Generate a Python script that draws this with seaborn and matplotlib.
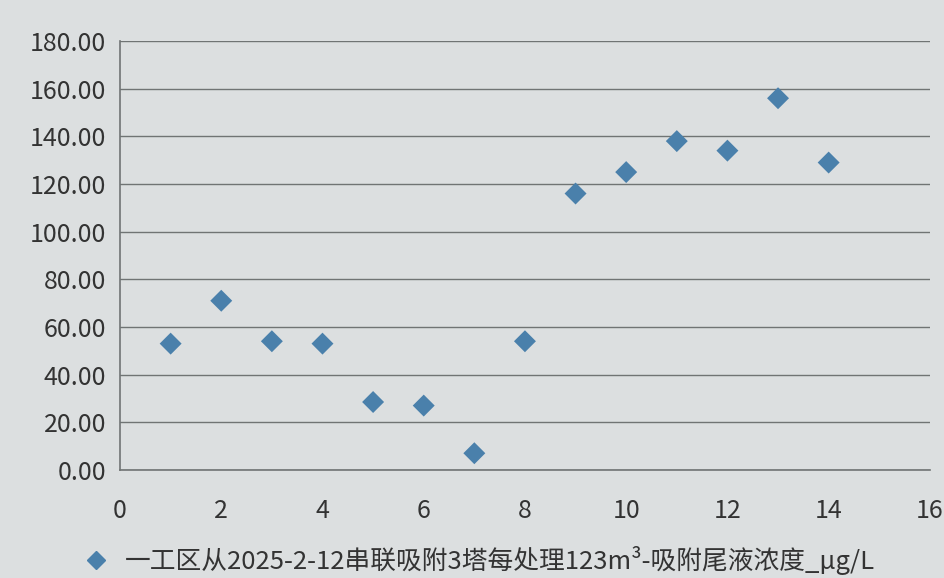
import matplotlib
matplotlib.use("Agg")
import matplotlib.pyplot as plt
import seaborn as sns
import pandas as pd
from matplotlib.ticker import FormatStrFormatter, MultipleLocator
from matplotlib.lines import Line2D

# Tail-liquid concentration per treated batch
batch = [1, 2, 3, 4, 5, 6, 7, 8, 9, 10, 11, 12, 13, 14]
concentration = [53.0, 71.0, 54.0, 53.0, 28.5, 27.0, 7.0, 54.0,
                 116.0, 125.0, 138.0, 134.0, 156.0, 129.0]
series_label = "一工区从2025-2-12串联吸附3塔每处理123m³-吸附尾液浓度_μg/L"

df = pd.DataFrame({"batch": batch, "concentration": concentration})

sns.set_theme(style="white")
plt.rcParams["font.family"] = ["Noto Sans CJK SC", "DejaVu Sans"]

bg = "#dcdfe0"
marker_color = "#4a80ab"

fig = plt.figure(figsize=(9.45, 5.78), dpi=100, facecolor=bg)
ax = fig.add_axes([0.127, 0.187, 0.857, 0.742])
ax.set_facecolor(bg)

sns.scatterplot(data=df, x="batch", y="concentration", marker="D", s=125,
                color=marker_color, edgecolor="none", ax=ax, legend=False,
                zorder=3)

ax.set_xlim(0, 16)
ax.set_ylim(0, 180)
ax.xaxis.set_major_locator(MultipleLocator(2))
ax.yaxis.set_major_locator(MultipleLocator(20))
ax.yaxis.set_major_formatter(FormatStrFormatter("%.2f"))
ax.grid(axis="y", color="#707474", linewidth=1.0)
ax.grid(axis="x", visible=False)
ax.set_xlabel("")
ax.set_ylabel("")

for side in ("top", "right"):
    ax.spines[side].set_visible(False)
for side in ("left", "bottom"):
    ax.spines[side].set_color("#707474")
    ax.spines[side].set_linewidth(1.2)

ax.tick_params(axis="both", length=0, labelsize=18, colors="#333333")
ax.tick_params(axis="y", pad=10)
ax.tick_params(axis="x", pad=20)

handle = Line2D([], [], marker="D", linestyle="none", color=marker_color,
                markersize=9)
fig.legend([handle], [series_label], loc="lower center",
           bbox_to_anchor=(0.5, -0.035), frameon=False, fontsize=18.5,
           handletextpad=0.1, labelcolor="#333333")

fig.savefig("out.png", dpi=100, facecolor=bg)
